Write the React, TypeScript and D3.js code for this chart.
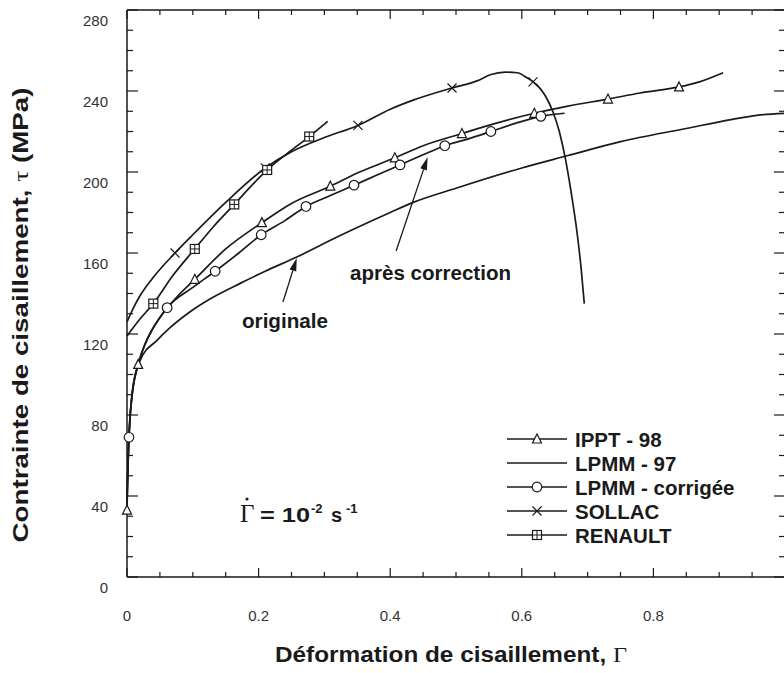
import React from "react";
import * as d3 from "d3";

// ---- data ----
const ipptLine: [number, number][] = [
  [0, 33], [0.001, 50], [0.003, 70], [0.007, 88], [0.017, 105], [0.03, 117], [0.05, 128],
  [0.075, 138], [0.103, 147], [0.15, 162], [0.205, 175], [0.25, 184.5], [0.309, 193],
  [0.35, 199.5], [0.407, 207], [0.45, 213], [0.509, 219], [0.56, 224], [0.619, 229],
  [0.67, 232.5], [0.731, 236], [0.78, 239], [0.839, 242], [0.87, 244.5], [0.906, 249],
];
const ipptMarks: [number, number][] = [
  [0, 33], [0.017, 105], [0.103, 147], [0.205, 175], [0.309, 193], [0.407, 207],
  [0.509, 219], [0.619, 229], [0.731, 236], [0.839, 242],
];
const lpmm97Line: [number, number][] = [
  [0, 35], [0.002, 60], [0.005, 80], [0.009, 94], [0.02, 107], [0.046, 117], [0.065, 123],
  [0.096, 131], [0.13, 138], [0.172, 145], [0.21, 151], [0.258, 158], [0.32, 168],
  [0.4, 180], [0.435, 185], [0.5, 192], [0.6, 202], [0.669, 208], [0.75, 215],
  [0.85, 221.5], [0.92, 226], [0.957, 228], [1.0, 229],
];
const corrLine: [number, number][] = [
  [0, 38], [0.001, 50], [0.003, 69], [0.008, 90], [0.02, 108], [0.04, 123], [0.061, 133],
  [0.1, 143], [0.134, 151], [0.17, 160], [0.204, 169], [0.24, 176], [0.272, 183],
  [0.31, 188.5], [0.345, 193.5], [0.38, 198.5], [0.415, 203.5], [0.45, 208.5],
  [0.483, 213], [0.52, 216.5], [0.553, 220], [0.59, 224], [0.629, 227.5], [0.665, 229],
];
const corrMarks: [number, number][] = [
  [0.003, 69], [0.061, 133], [0.134, 151], [0.204, 169], [0.272, 183], [0.345, 193.5],
  [0.415, 203.5], [0.483, 213], [0.553, 220], [0.629, 227.5],
];
const sollacLine: [number, number][] = [
  [0, 126], [0.01, 133], [0.02, 139], [0.04, 148], [0.073, 160], [0.1, 169], [0.15, 185],
  [0.21, 202], [0.25, 210], [0.3, 217], [0.351, 223], [0.4, 231], [0.435, 235.5],
  [0.494, 241.5], [0.532, 245], [0.552, 248], [0.575, 249.3], [0.593, 249], [0.608, 246.5],
  [0.623, 243], [0.635, 238], [0.647, 230], [0.657, 220], [0.666, 207], [0.675, 190],
  [0.684, 170], [0.69, 153], [0.695, 135],
];
const sollacMarks: [number, number][] = [
  [0.073, 160], [0.21, 202], [0.351, 223], [0.494, 241.5], [0.617, 244.5],
];
const renaultLine: [number, number][] = [
  [0, 119], [0.02, 127.5], [0.04, 135], [0.07, 149], [0.103, 162], [0.13, 172.5],
  [0.163, 184], [0.19, 193.5], [0.213, 201], [0.245, 209.5], [0.277, 217.5], [0.305, 225],
];
const renaultMarks: [number, number][] = [
  [0.04, 135], [0.103, 162], [0.163, 184], [0.213, 201], [0.277, 217.5],
];

const xTickLabels = [0, 0.2, 0.4, 0.6, 0.8];
const yTickLabels = [0, 40, 80, 120, 160, 200, 240, 280];
const legendNames = ["IPPT - 98", "LPMM - 97", "LPMM - corrigée", "SOLLAC", "RENAULT"];
const legendMarkers = ["triangle", "none", "circle", "cross", "square"];

// annotation arrows: [from, tip] in data coordinates
const arrowApres: [number, number][] = [[0.409, 161], [0.457, 207.4]];
const arrowOrig: [number, number][] = [[0.237, 135.8], [0.258, 157.5]];

const W = 784;
const H = 673;
const FONT = "'Liberation Sans', Arial, Helvetica, sans-serif";
const INK = "#1a1a1a";

export default function App() {
  const x = d3.scaleLinear().domain([0, 1]).range([127, 785]);
  const y = d3.scaleLinear().domain([0, 280]).range([577, 10]);
  const line = d3
    .line<[number, number]>()
    .x((d) => x(d[0]))
    .y((d) => y(d[1]))
    .curve(d3.curveMonotoneX);

  const xMinor = d3.range(0, 1.0001, 0.05);
  const yMinor = d3.range(0, 280.001, 10);

  const marker = (kind: string, cx: number, cy: number, key: string) => {
    const s = 4.5;
    if (kind === "triangle")
      return (
        <path key={key} d={`M${cx},${cy - s - 0.5}L${cx + s},${cy + s - 0.5}L${cx - s},${cy + s - 0.5}Z`}
          fill="white" stroke={INK} strokeWidth={1.2} />
      );
    if (kind === "circle")
      return <circle key={key} cx={cx} cy={cy} r={4.8} fill="white" stroke={INK} strokeWidth={1.2} />;
    if (kind === "cross")
      return (
        <path key={key} d={`M${cx - s},${cy - s}L${cx + s},${cy + s}M${cx - s},${cy + s}L${cx + s},${cy - s}`}
          stroke={INK} strokeWidth={1.2} fill="none" />
      );
    if (kind === "square")
      return (
        <g key={key}>
          <rect x={cx - s} y={cy - s} width={2 * s} height={2 * s} fill="white" stroke={INK} strokeWidth={1.2} />
          <path d={`M${cx - s},${cy}L${cx + s},${cy}M${cx},${cy - s}L${cx},${cy + s}`} stroke={INK} strokeWidth={1} />
        </g>
      );
    return null;
  };

  const arrow = (pts: [number, number][], key: string) => {
    const x0 = x(pts[0][0]), y0 = y(pts[0][1]);
    const x1 = x(pts[1][0]), y1 = y(pts[1][1]);
    const ang = Math.atan2(y1 - y0, x1 - x0);
    const L = 13, hw = 3.5;
    const bx = x1 - L * Math.cos(ang), by = y1 - L * Math.sin(ang);
    const px = -Math.sin(ang) * hw, py = Math.cos(ang) * hw;
    return (
      <g key={key}>
        <line x1={x0} y1={y0} x2={bx} y2={by} stroke={INK} strokeWidth={1.3} />
        <path d={`M${x1},${y1}L${bx + px},${by + py}L${bx - px},${by - py}Z`} fill={INK} />
      </g>
    );
  };

  const series = [
    { d: ipptLine, m: ipptMarks, k: "triangle" },
    { d: lpmm97Line, m: [] as [number, number][], k: "none" },
    { d: corrLine, m: corrMarks, k: "circle" },
    { d: sollacLine, m: sollacMarks, k: "cross" },
    { d: renaultLine, m: renaultMarks, k: "square" },
  ];

  return (
    <svg width={W} height={H} style={{ position: "absolute", left: 0, top: 0, background: "white" }}
      fontFamily={FONT}>
      <rect x={0} y={0} width={W} height={H} fill="white" />
      {/* frame */}
      <path d={`M${x(0)},${y(280)}L${x(1) + 1},${y(280)}M${x(0)},${y(0)}L${x(1) + 1},${y(0)}M${x(0)},${y(0)}L${x(0)},${y(280)}`}
        stroke={INK} strokeWidth={1.5} fill="none" />
      {/* x ticks */}
      {xMinor.map((v, i) => {
        const major = Math.abs(v / 0.2 - Math.round(v / 0.2)) < 1e-6;
        const len = major ? 9 : 5;
        return (
          <g key={"xt" + i}>
            <line x1={x(v)} x2={x(v)} y1={y(0)} y2={y(0) - len} stroke={INK} strokeWidth={1.2} />
            <line x1={x(v)} x2={x(v)} y1={y(280)} y2={y(280) + len} stroke={INK} strokeWidth={1.2} />
          </g>
        );
      })}
      {/* y ticks */}
      {yMinor.map((v, i) => {
        const major = v % 40 === 0;
        const len = major ? 11 : 6;
        return (
          <g key={"yt" + i}>
            <line x1={x(0)} x2={x(0) + len} y1={y(v)} y2={y(v)} stroke={INK} strokeWidth={1.2} />
            <line x1={x(1)} x2={x(1) - len} y1={y(v)} y2={y(v)} stroke={INK} strokeWidth={1.2} />
          </g>
        );
      })}
      {xTickLabels.map((v) => (
        <text key={"xl" + v} x={x(v)} y={621} textAnchor="middle" fontSize={15} fill="#333">
          {String(v)}
        </text>
      ))}
      {yTickLabels.map((v) => (
        <text key={"yl" + v} x={108} y={y(v) + 16} textAnchor="end" fontSize={15} fill="#333">
          {String(v)}
        </text>
      ))}
      {/* axis titles */}
      <text x={275} y={662} fontSize={22} fontWeight="bold" fill={INK} textLength={352}
        lengthAdjust="spacingAndGlyphs">
        Déformation de cisaillement, <tspan fontFamily="'Liberation Serif', 'DejaVu Serif', serif" fontWeight="normal">Γ</tspan>
      </text>
      <text transform="translate(28,315) rotate(-90)" textAnchor="middle" fontSize={22} fontWeight="bold"
        fill={INK} textLength={455} lengthAdjust="spacingAndGlyphs">
        Contrainte de cisaillement, <tspan fontFamily="'Liberation Serif', 'DejaVu Serif', serif" fontWeight="normal">τ</tspan> (MPa)
      </text>

      {/* curves */}
      {series.map((s, i) => (
        <path key={"c" + i} d={line(s.d) || ""} fill="none" stroke={INK} strokeWidth={1.7}
          strokeLinejoin="round" />
      ))}
      {series.map((s, i) => s.m.map((p, j) => marker(s.k, x(p[0]), y(p[1]), `m${i}-${j}`)))}

      {/* annotations */}
      {arrow(arrowApres, "a1")}
      {arrow(arrowOrig, "a2")}
      <text x={350} y={280} fontSize={20} fontWeight="bold" fill={INK} textLength={161}
        lengthAdjust="spacingAndGlyphs">après correction</text>
      <text x={242} y={328} fontSize={20} fontWeight="bold" fill={INK} textLength={86}
        lengthAdjust="spacingAndGlyphs">originale</text>

      <g fill={INK}>
        <text x={240} y={522} fontSize={25} fontFamily="'Liberation Serif', 'DejaVu Serif', serif">Γ</text>
        <circle cx={247} cy={499} r={1.6} />
        <text x={260} y={522} fontSize={20} fontWeight="bold" textLength={50} lengthAdjust="spacingAndGlyphs">= 10</text>
        <text x={311} y={513} fontSize={13} fontWeight="bold">-2</text>
        <text x={331} y={522} fontSize={20} fontWeight="bold">s</text>
        <text x={346} y={513} fontSize={13} fontWeight="bold">-1</text>
      </g>

      {/* legend */}
      {legendNames.map((name, i) => {
        const ly = 439 + i * 24;
        return (
          <g key={"lg" + i}>
            <line x1={507} x2={567} y1={ly} y2={ly} stroke={INK} strokeWidth={1.6} />
            {marker(legendMarkers[i], 537, ly, "lm" + i)}
            <text x={575} y={ly + 7.5} fontSize={20.5} fontWeight="bold" fill={INK}>{name}</text>
          </g>
        );
      })}
    </svg>
  );
}
